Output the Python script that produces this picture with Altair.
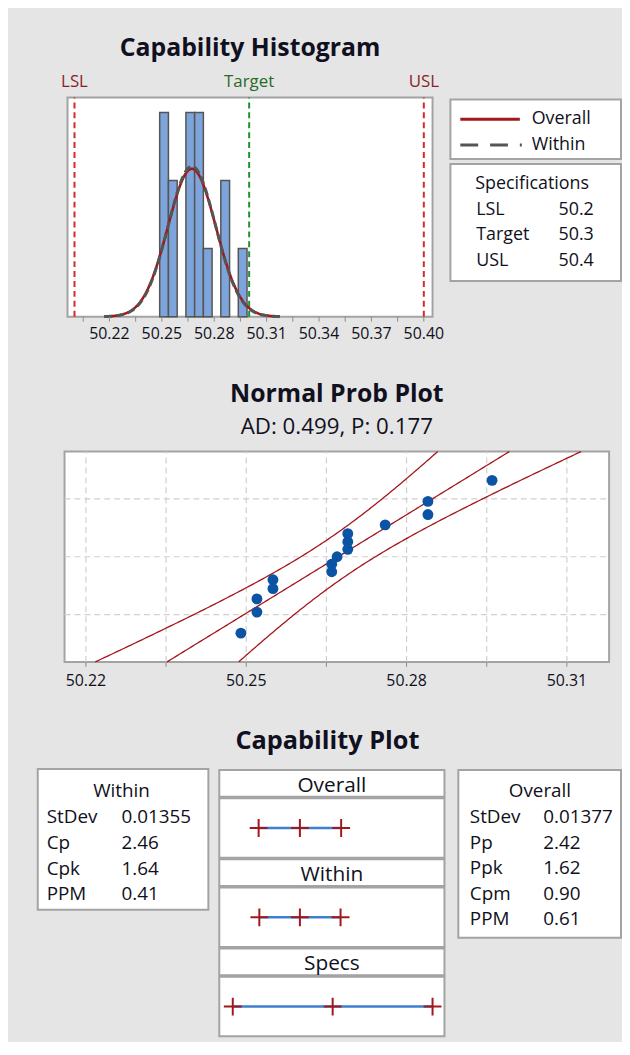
import altair as alt
import pandas as pd

# ---------------- data ----------------
measurements = [50.249, 50.252, 50.252, 50.255, 50.255, 50.266, 50.266, 50.267,
                50.269, 50.269, 50.269, 50.276, 50.284, 50.284, 50.296]
spec_names = ["LSL", "Target", "USL"]
spec_values = [50.2, 50.3, 50.4]
process_mean = 50.2672
stdev_overall = 0.01377
stdev_within = 0.01355
bin_extent = [50.2485, 50.3035]
bin_width = 0.005

hist_tick_values = [50.205, 50.22, 50.235, 50.25, 50.265, 50.28, 50.295, 50.31,
                    50.325, 50.34, 50.355, 50.37, 50.385, 50.40]
hist_tick_labels = ["50.22", "50.25", "50.28", "50.31", "50.34", "50.37", "50.40"]
prob_tick_values = [50.22, 50.235, 50.25, 50.265, 50.28, 50.295, 50.31]
prob_tick_labels = ["50.22", "50.25", "50.28", "50.31"]
prob_grid_z = [-1.2816, 0.0, 1.2816]
ad_text = "AD: 0.499, P: 0.177"

legend_series = ["Overall", "Within"]
within_names = ["StDev", "Cp", "Cpk", "PPM"]
within_stats = ["0.01355", "2.46", "1.64", "0.41"]
overall_names = ["StDev", "Pp", "Ppk", "Cpm", "PPM"]
overall_stats = ["0.01377", "2.42", "1.62", "0.90", "0.61"]

cap_sections = ["Overall", "Within", "Specs"]
overall_interval = [50.2259, 50.2672, 50.3085]
within_interval = [50.2266, 50.2672, 50.3079]
specs_interval = [50.2, 50.3, 50.4]

# ---------------- styles ----------------
FONT = "Open Sans"
BG = "#e5e5e5"
FRAME = "#a3a3a3"
TEXT = "#101020"
RED_LINE = "#a3161b"
WITHIN_GRAY = "#555555"
SPEC_RED = "#d42a2a"
TARGET_GREEN = "#21902f"
SPEC_TXT = "#8a1f2c"
TARGET_TXT = "#286a28"
BAR_FILL = "#7ea5db"
BAR_STROKE = "#555555"
POINT_BLUE = "#0b54a4"
GRID = "#d0d0d0"
TICK = "#8c8c8c"
CAP_BLUE = "#3d80cf"
CROSS_RED = "#a3171c"
TITLE_SIZE = 25

W, H = 618, 1034
N = len(measurements)
blank = pd.DataFrame({"k": [0]})


def lin(domain, rng):
    return alt.Scale(domain=domain, range=rng, nice=False, zero=False)


# page-level layout scales (pixels of the chart area)
PX = lin([0, W], [0, W])
PY = lin([0, H], [0, H])

# panel regions (chart pixels): x0, x1, y_top, y_bottom
HIST = (60, 428, 86, 307)
NORM = (57, 606, 443, 655)
LEG_BOX = (446, 618, 88, 148)
SPEC_BOX = (446, 618, 153, 271)
WITHIN_BOX = (30, 202, 763, 905)
OVERALL_BOX = (454, 618, 764, 933)
CAP_X = (213, 440)
CAP_TOP = 764
HEAD_H, BODY_H, GAP = 27, 60, 1.5

HX = lin([50.196, 50.405], [HIST[0], HIST[1]])
HY = lin([0, 3.22], [HIST[3], HIST[2]])
NX = lin([50.216, 50.3179], [NORM[0], NORM[1]])
NY = lin([-2.326, 2.326], [NORM[3], NORM[2]])
CX = lin([50.1865, 50.4119], [CAP_X[0], CAP_X[1]])

layers = []


def text_layer(df, x, y, text="t:N", **mark):
    style = dict(font=FONT, color=TEXT, baseline="middle")
    style.update(mark)
    return alt.Chart(df).mark_text(**style).encode(x=x, y=y, text=text)


def box_rects(boxes):
    df = pd.DataFrame(boxes, columns=["x0", "x1", "y0", "y1"])
    return alt.Chart(df).mark_rect(fill="white", stroke=FRAME, strokeWidth=2).encode(
        x=alt.X("x0:Q", scale=PX, axis=None), x2="x1:Q",
        y=alt.Y("y0:Q", scale=PY, axis=None), y2="y1:Q")


# ---------------- frames ----------------
cap_tops = []
yy = CAP_TOP
for _ in cap_sections:
    cap_tops.append(yy)
    yy += HEAD_H + GAP + BODY_H + GAP
cap_boxes = []
for t in cap_tops:
    cap_boxes.append((CAP_X[0], CAP_X[1], t, t + HEAD_H))
    cap_boxes.append((CAP_X[0], CAP_X[1], t + HEAD_H + GAP, t + HEAD_H + GAP + BODY_H))
layers.append(box_rects([HIST, NORM, LEG_BOX, SPEC_BOX, WITHIN_BOX, OVERALL_BOX] + cap_boxes))

# ---------------- capability histogram ----------------
hist_df = pd.DataFrame({"value": measurements})
spec_df = pd.DataFrame({"name": spec_names, "value": spec_values})

for cond, col in [("datum.name != 'Target'", SPEC_RED), ("datum.name == 'Target'", TARGET_GREEN)]:
    layers.append(alt.Chart(spec_df).transform_filter(cond).mark_rule(
        color=col, strokeWidth=2, strokeDash=[6, 4]).encode(
        x=alt.X("value:Q", scale=HX, axis=None),
        y=alt.YDatum(0, scale=HY, axis=None), y2=alt.Y2Datum(3.22)))

layers.append(alt.Chart(hist_df).mark_bar(fill=BAR_FILL, stroke=BAR_STROKE, strokeWidth=1.5,
                                          binSpacing=0).encode(
    x=alt.X("value:Q", bin=alt.Bin(extent=bin_extent, step=bin_width, nice=False), scale=HX,
            axis=None),
    y=alt.Y("count()", scale=HY, axis=None)))


def normal_curve(sd, **mark):
    return alt.Chart(alt.sequence(50.217, 50.3176, 0.0005, as_="x")).transform_calculate(
        y=f"densityNormal(datum.x, {process_mean}, {sd}) * {N} * {bin_width}"
    ).mark_line(**mark).encode(
        x=alt.X("x:Q", scale=HX, axis=None), y=alt.Y("y:Q", scale=HY, axis=None))


layers.append(normal_curve(stdev_overall, color=RED_LINE, strokeWidth=2.6))
layers.append(normal_curve(stdev_within, color=WITHIN_GRAY, strokeWidth=3, strokeDash=[8, 4]))

# ticks + labels of the histogram axis
layers.append(alt.Chart(pd.DataFrame({"v": hist_tick_values})).mark_rule(
    color=TICK, strokeWidth=1).encode(
    x=alt.X("v:Q", scale=HX, axis=None),
    y=alt.YDatum(HIST[3], scale=PY, axis=None), y2=alt.Y2Datum(HIST[3] + 5)))
layers.append(text_layer(
    alt.Data(values=[{"t": s} for s in hist_tick_labels]),
    x=alt.X("v:Q", scale=HX, axis=None), y=alt.YDatum(324, scale=PY, axis=None),
    fontSize=16, align="center").transform_calculate(v="toNumber(datum.t)"))
# spec labels above the frame
for cond, col in [("datum.name != 'Target'", SPEC_TXT), ("datum.name == 'Target'", TARGET_TXT)]:
    layers.append(text_layer(spec_df, x=alt.X("value:Q", scale=HX, axis=None),
                             y=alt.YDatum(70, scale=PY, axis=None), text="name:N",
                             fontSize=17, align="center", color=col).transform_filter(cond))
layers.append(text_layer(blank, x=alt.XDatum((HIST[0] + HIST[1]) / 2, scale=PX, axis=None),
                         y=alt.YDatum(36, scale=PY, axis=None),
                         text=alt.value("Capability Histogram"),
                         fontSize=TITLE_SIZE, fontWeight="bold", align="center"))

# ---------------- legend + specifications ----------------
legend_df = pd.DataFrame({"series": legend_series, "ypos": [108, 134]})
layers.append(alt.Chart(legend_df).transform_filter("datum.series == 'Overall'").mark_rule(
    color=RED_LINE, strokeWidth=3).encode(
    x=alt.XDatum(456, scale=PX, axis=None), x2=alt.X2Datum(516),
    y=alt.Y("ypos:Q", scale=PY, axis=None)))
layers.append(alt.Chart(legend_df).transform_filter("datum.series == 'Within'").mark_rule(
    color=WITHIN_GRAY, strokeWidth=3, strokeDash=[18, 12]).encode(
    x=alt.XDatum(456, scale=PX, axis=None), x2=alt.X2Datum(518),
    y=alt.Y("ypos:Q", scale=PY, axis=None)))
layers.append(text_layer(legend_df, x=alt.XDatum(528, scale=PX, axis=None),
                         y=alt.Y("ypos:Q", scale=PY, axis=None), text="series:N",
                         fontSize=18, align="left"))

spec_tbl = pd.DataFrame({"name": spec_names, "val": [str(v) for v in spec_values],
                         "row": list(range(1, len(spec_names) + 1))})
SROW = lin([0, 3], [173, 251])
layers.append(text_layer(blank, x=alt.XDatum(471, scale=PX, axis=None),
                         y=alt.YDatum(0, scale=SROW, axis=None), text=alt.value("Specifications"),
                         fontSize=18, align="left"))
layers.append(text_layer(spec_tbl, x=alt.XDatum(472, scale=PX, axis=None),
                         y=alt.Y("row:Q", scale=SROW, axis=None), text="name:N",
                         fontSize=18, align="left"))
layers.append(text_layer(spec_tbl, x=alt.XDatum(555, scale=PX, axis=None),
                         y=alt.Y("row:Q", scale=SROW, axis=None), text="val:N",
                         fontSize=18, align="left"))

# ---------------- normal probability plot ----------------
layers.append(alt.Chart(pd.DataFrame({"v": prob_tick_values})).mark_rule(
    color=GRID, strokeWidth=1.2, strokeDash=[6, 4]).encode(
    x=alt.X("v:Q", scale=NX, axis=None),
    y=alt.YDatum(-2.326, scale=NY, axis=None), y2=alt.Y2Datum(2.326)))
layers.append(alt.Chart(pd.DataFrame({"z": prob_grid_z})).mark_rule(
    color=GRID, strokeWidth=1.2, strokeDash=[6, 4]).encode(
    y=alt.Y("z:Q", scale=NY, axis=None),
    x=alt.XDatum(50.216, scale=NX, axis=None), x2=alt.X2Datum(50.3179)))

layers.append(alt.Chart(alt.sequence(-2.326, 2.3261, 0.02326, as_="z")).transform_calculate(
    fit=f"{process_mean} + datum.z * {stdev_overall}",
    half=f"1.96 * {stdev_overall} * sqrt((1 + datum.z * datum.z / 2) / {N})",
).transform_calculate(
    lo="datum.fit - datum.half", hi="datum.fit + datum.half"
).transform_fold(["fit", "lo", "hi"], as_=["band", "xv"]).mark_line(
    color=RED_LINE, strokeWidth=1.3).encode(
    x=alt.X("xv:Q", scale=NX, axis=None), y=alt.Y("z:Q", scale=NY, axis=None),
    detail="band:N", order="z:Q"))

layers.append(alt.Chart(hist_df).transform_window(
    rank="row_number()", sort=[alt.SortField("value", order="ascending")]
).transform_calculate(
    z=f"quantileNormal((datum.rank - 0.3) / ({N} + 0.4))"
).mark_circle(size=120, color=POINT_BLUE, opacity=1).encode(
    x=alt.X("value:Q", scale=NX, axis=None), y=alt.Y("z:Q", scale=NY, axis=None)))

layers.append(alt.Chart(pd.DataFrame({"v": prob_tick_values})).mark_rule(
    color=TICK, strokeWidth=1).encode(
    x=alt.X("v:Q", scale=NX, axis=None),
    y=alt.YDatum(NORM[3], scale=PY, axis=None), y2=alt.Y2Datum(NORM[3] + 5)))
layers.append(text_layer(
    alt.Data(values=[{"t": s} for s in prob_tick_labels]),
    x=alt.X("v:Q", scale=NX, axis=None), y=alt.YDatum(674, scale=PY, axis=None),
    fontSize=16, align="center").transform_calculate(v="toNumber(datum.t)"))
NCX = (NORM[0] + NORM[1]) / 2
layers.append(text_layer(blank, x=alt.XDatum(NCX, scale=PX, axis=None),
                         y=alt.YDatum(385, scale=PY, axis=None), text=alt.value("Normal Prob Plot"),
                         fontSize=TITLE_SIZE, fontWeight="bold", align="center"))
layers.append(text_layer(blank, x=alt.XDatum(NCX, scale=PX, axis=None),
                         y=alt.YDatum(418, scale=PY, axis=None), text=alt.value(ad_text),
                         fontSize=22.5, align="center"))

# ---------------- capability plot ----------------
layers.append(text_layer(blank, x=alt.XDatum(322, scale=PX, axis=None),
                         y=alt.YDatum(735, scale=PY, axis=None), text=alt.value("Capability Plot"),
                         fontSize=25.5, fontWeight="bold", align="center"))
cap_heads = pd.DataFrame({"t": cap_sections, "ypos": [t + HEAD_H / 2 + 2.5 for t in cap_tops]})
layers.append(text_layer(cap_heads, x=alt.XDatum((CAP_X[0] + CAP_X[1]) / 2, scale=PX, axis=None),
                         y=alt.Y("ypos:Q", scale=PY, axis=None), fontSize=21, align="center"))
cap_rows = []
for sec, vals, t in zip(cap_sections, [overall_interval, within_interval, specs_interval], cap_tops):
    for v in vals:
        cap_rows.append({"section": sec, "value": v, "ypos": t + HEAD_H + GAP + BODY_H / 2})
cap_df = pd.DataFrame(cap_rows)
layers.append(alt.Chart(cap_df).transform_aggregate(
    lo="min(value)", hi="max(value)", groupby=["section", "ypos"]).mark_rule(
    color=CAP_BLUE, strokeWidth=2.5).encode(
    x=alt.X("lo:Q", scale=CX, axis=None), x2="hi:Q", y=alt.Y("ypos:Q", scale=PY, axis=None)))
layers.append(alt.Chart(cap_df).mark_point(
    shape="M-1,0L1,0M0,-1L0,1", size=324, color=CROSS_RED, strokeWidth=2, filled=False,
    opacity=1).encode(
    x=alt.X("value:Q", scale=CX, axis=None), y=alt.Y("ypos:Q", scale=PY, axis=None)))


# ---------------- statistic tables ----------------
def stat_table(title, names, stats, col_px, row_px, title_x):
    df = pd.DataFrame({"name": names, "stat": stats, "row": list(range(1, len(names) + 1))})
    cx = lin([0, 1], col_px)
    ry = lin([0, len(names)], row_px)
    return [
        text_layer(blank, x=alt.XDatum(title_x, scale=cx, axis=None),
                   y=alt.YDatum(0, scale=ry, axis=None), text=alt.value(title),
                   fontSize=19, align="center"),
        text_layer(df, x=alt.XDatum(0, scale=cx, axis=None), y=alt.Y("row:Q", scale=ry, axis=None),
                   text="name:N", fontSize=19, align="left"),
        text_layer(df, x=alt.XDatum(1, scale=cx, axis=None), y=alt.Y("row:Q", scale=ry, axis=None),
                   text="stat:N", fontSize=19, align="left"),
    ]


layers += stat_table("Within", within_names, within_stats, [39, 114.4], [785.5, 889.5], 1.0)
layers += stat_table("Overall", overall_names, overall_stats, [465.6, 539.6], [785.5, 914.6], 0.955)

chart = alt.layer(*layers).resolve_scale(x="independent", y="independent").properties(
    width=W, height=H, padding=0, background=BG
).configure_view(stroke=None)

chart.save("out.html", embed_options={"renderer": "svg", "actions": False})
